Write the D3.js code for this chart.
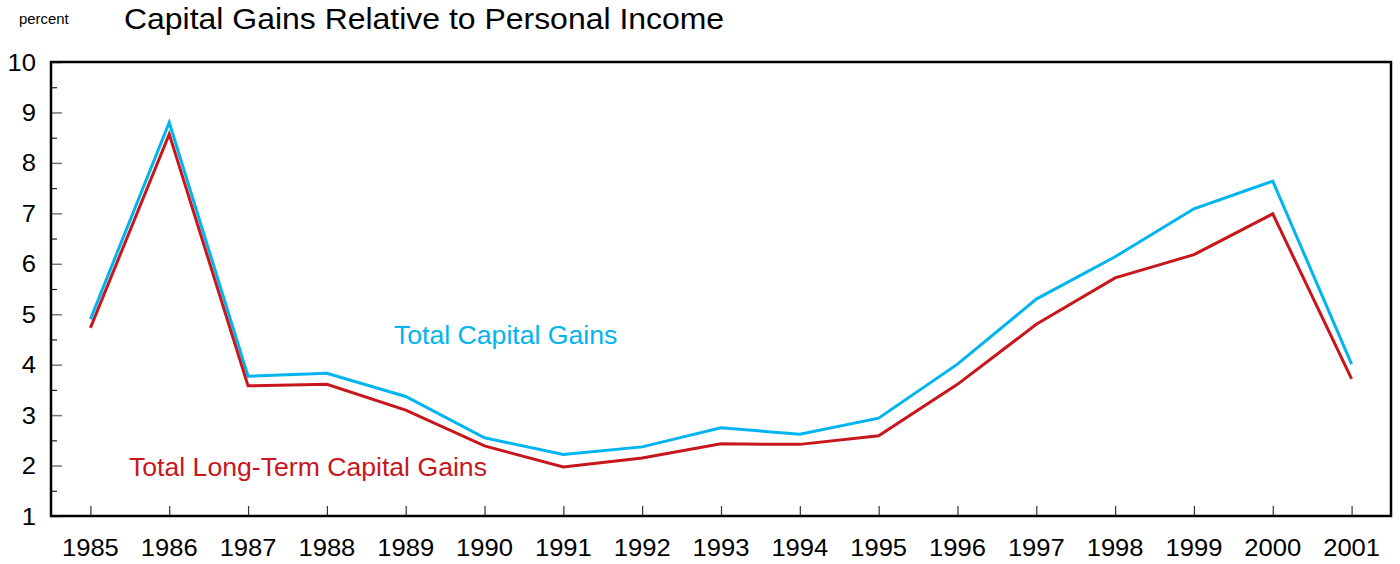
<!DOCTYPE html>
<html>
<head>
<meta charset="utf-8">
<script src="https://cdn.jsdelivr.net/npm/d3@7"></script>
<style>
  html, body { margin: 0; padding: 0; background: #fff; }
  svg { display: block; font-family: "Liberation Sans", Arial, sans-serif; }
</style>
</head>
<body>
<svg id="chart" width="1400" height="564"></svg>
<script>
// Capital gains as a share of personal income, 1985-2001
const years = [1985, 1986, 1987, 1988, 1989, 1990, 1991, 1992, 1993, 1994, 1995, 1996, 1997, 1998, 1999, 2000, 2001];
const totalGains = [4.90, 8.80, 3.77, 3.83, 3.37, 2.55, 2.22, 2.37, 2.75, 2.62, 2.94, 4.01, 5.30, 6.14, 7.09, 7.64, 4.01];
const longTermGains = [4.73, 8.57, 3.58, 3.61, 3.10, 2.39, 1.97, 2.15, 2.43, 2.42, 2.59, 3.61, 4.80, 5.72, 6.18, 6.99, 3.72];
const yTicks = [1, 2, 3, 4, 5, 6, 7, 8, 9, 10];
const yMinorTicks = [1.5, 2.5, 3.5, 4.5, 5.5, 6.5, 7.5, 8.5, 9.5];

const blue = "#00b4f0";
const red = "#c8161d";
const widen = 1.065; // slightly wide lettering

const svg = d3.select("#chart");
const m = { left: 51, right: 1391, top: 62, bottom: 516 };

const x = d3.scaleLinear().domain([1984.5, 2001.5]).range([m.left, m.right]);
const y = d3.scaleLinear().domain([1, 10]).range([m.bottom, m.top]);

function label(parent, tx, ty, txt, size, fill, anchor) {
  return parent.append("text")
    .attr("transform", `translate(${tx},${ty}) scale(${widen},1)`)
    .attr("text-anchor", anchor || "start")
    .attr("font-size", size).attr("fill", fill || "#000")
    .text(txt);
}

// Title and unit
label(svg, 19, 24, "percent", 14);
label(svg, 124, 29, "Capital Gains Relative to Personal Income", 30);

// Inward tick marks on the left axis
const yAxisMajor = d3.axisRight(y).tickValues(yTicks).tickSize(11).tickFormat("");
const yAxisMinor = d3.axisRight(y).tickValues(yMinorTicks).tickSize(6).tickFormat("");
const gy = svg.append("g").attr("transform", `translate(${m.left},0)`).call(yAxisMajor);
gy.select(".domain").remove();
gy.selectAll(".tick line").attr("stroke", "#777").attr("stroke-width", 1.5);
const gym = svg.append("g").attr("transform", `translate(${m.left},0)`).call(yAxisMinor);
gym.select(".domain").remove();
gym.selectAll(".tick line").attr("stroke", "#222").attr("stroke-width", 1.2);

// Y labels
const gyl = svg.append("g");
yTicks.forEach(d => label(gyl, 36, y(d) + 8.5, d, 24, "#000", "end"));

// Inward tick marks on the bottom axis
const xAxis = d3.axisTop(x).tickValues(years).tickSize(10).tickFormat("");
const gx = svg.append("g").attr("transform", `translate(0,${m.bottom})`).call(xAxis);
gx.select(".domain").remove();
gx.selectAll(".tick line").attr("stroke", "#333").attr("stroke-width", 1.2);

const gxl = svg.append("g");
years.forEach(d => label(gxl, x(d), 556, d, 24, "#000", "middle"));

// Series
const line = d3.line().x((d, i) => x(years[i])).y(d => y(d));
svg.append("path").datum(totalGains).attr("d", line)
  .attr("fill", "none").attr("stroke", blue).attr("stroke-width", 3).attr("stroke-linejoin", "miter");
svg.append("path").datum(longTermGains).attr("d", line)
  .attr("fill", "none").attr("stroke", red).attr("stroke-width", 3).attr("stroke-linejoin", "miter");

// Series labels
label(svg, 394, 344, "Total Capital Gains", 25, blue);
label(svg, 129, 476, "Total Long-Term Capital Gains", 25, red);

// Plot frame
svg.append("rect")
  .attr("x", m.left).attr("y", m.top)
  .attr("width", m.right - m.left).attr("height", m.bottom - m.top)
  .attr("fill", "none").attr("stroke", "#000").attr("stroke-width", 2.5);
</script>
</body>
</html>
